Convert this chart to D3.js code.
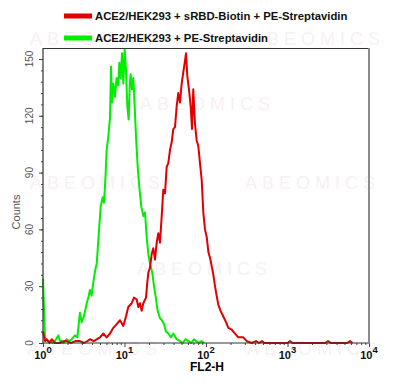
<!DOCTYPE html>
<html lang="en">
  <head>
    <meta charset="UTF-8" />
    <title>FL2-H histogram overlay</title>
    <script src="https://d3js.org/d3.v7.min.js"></script>
    <style>
      body {
        margin: 0;
        background: #fff;
        font-family: 'Liberation Sans', Arial, sans-serif;
      }
      .wm {
        font-size: 18px;
        letter-spacing: 5px;
        fill: #f7f1f3;
      }
      .legend-text {
        font-size: 11.3px;
        font-weight: bold;
        fill: #111;
      }
      .ytick-label {
        font-size: 10px;
        fill: #555;
      }
      .xtick-label {
        font-size: 11px;
        font-weight: bold;
        fill: #111;
      }
      .axis path {
        display: none;
      }
      .axis line {
        stroke: #444;
      }
    </style>
  </head>
  <body>
    <svg width="396" height="387"></svg>

    <script>
      // series (FL2-H channel value, counts)
      const seriesNames = [
        'ACE2/HEK293 + sRBD-Biotin + PE-Streptavidin',
        'ACE2/HEK293 + PE-Streptavidin',
      ];

      const greenFL = [
        1.0, 1.06, 1.14, 1.22, 1.3, 1.4, 1.54, 1.62, 1.69, 1.8, 1.95, 2.1,
        2.25, 2.47, 2.64, 2.84, 2.98, 3.18, 3.44, 3.6, 3.77, 3.95, 4.14, 4.35,
        4.56, 4.77, 5.1, 5.4, 5.6, 5.82, 6.04, 6.33, 6.64, 6.83, 7.02, 7.29,
        7.64, 8.01, 8.4, 8.64, 8.97, 9.32, 9.68, 10.05, 10.43, 10.83, 11.25,
        11.57, 11.9, 12.36, 12.84, 13.33, 13.84, 14.52, 15.21, 16.09, 17.03,
        17.85, 18.71, 19.6, 20.55, 21.95, 23.0, 24.4, 25.5, 27.3, 28.8, 30.5,
        32.3, 34.5, 37.2, 39.7, 43.7, 48.0, 52, 56, 61, 66, 71, 76, 82, 88, 95,
      ];
      const greenCounts = [
        34, 2, 1, 1, 0, 1, 4, 1, 1, 0, 2, 1,
        2, 4, 3, 16, 11, 14, 21, 24, 28, 25, 32, 38,
        42, 54, 72, 77, 74, 86, 102, 109, 119, 146, 127, 137,
        130, 140, 136, 148, 140, 153, 137, 155, 144, 125, 118,
        135, 142, 134, 140, 125, 109, 93, 82, 72, 67,
        69, 56, 47, 42, 37, 30, 23, 17, 13, 12, 10,
        6, 5, 3, 5, 2, 1, 0, 2, 1, 0, 2, 1, 0, 1, 0,
      ];

      const redFL = [
        1.0, 1.06, 1.11, 1.2, 1.28, 1.4, 1.62, 1.8, 1.95, 2.2, 2.5, 2.84, 3.2,
        3.5, 3.77, 4.2, 4.6, 5.0, 5.5, 6.04, 6.64, 7.29, 8.02, 8.81, 9.67,
        10.43, 11.13, 12.25, 13.08, 14.12, 14.77, 15.49, 16.25, 17.01, 18.36,
        19.05, 19.59, 20.55, 21.56, 22.56, 23.67, 24.84, 25.99, 27.27, 28.6,
        29.93, 31.4, 32.94, 34.47, 36.16, 37.93, 39.69, 41.64, 43.68, 45.71,
        47.96, 50.31, 52.64, 55.23, 56.84, 59.0, 61.8, 64.9, 67.3, 69.8, 73.2,
        76.8, 80.5, 84.4, 88.6, 92.7, 97.2, 102, 107, 112, 117, 123, 129, 135,
        142, 151, 163, 176, 188, 207, 227, 249, 287, 316, 364, 411, 450, 486,
        520, 1000, 1074, 1150, 2900, 3141, 3400, 5400, 5848, 6300,
      ];
      const redCounts = [
        6, 1, 2, 0, 2, 0, 0, 1, 1, 0, 1, 1, 0,
        1, 2, 1, 2, 3, 5, 3, 5, 8, 10, 12, 9,
        14, 19, 21, 24, 23, 19, 21, 17, 21, 24,
        32, 37, 40, 47, 50, 44, 53, 58, 53, 67,
        81, 79, 93, 95, 102, 106, 113, 114, 125, 132,
        127, 137, 143, 149, 153, 141, 134, 125, 113, 134, 116,
        107, 104, 95, 86, 69, 60, 56, 48, 45, 41, 36, 30, 25,
        20, 17, 14, 11, 8, 7, 5, 3, 3, 1, 0, 1, 0, 1,
        0, 0, 1, 0, 0, 1, 0, 0, 1, 0,
      ];

      const yTicks = [0, 30, 60, 90, 120, 150];
      const yMinorStep = 6;
      const xDecades = [1, 10, 100, 1000, 10000];
      const xExponents = ['0', '1', '2', '3', '4'];

      const svg = d3.select('svg');

      const plotL = 43,
        plotR = 369,
        plotT = 48.5,
        plotB = 343;

      const x = d3.scaleLog().domain([1, 10000]).range([plotL, plotR]);
      const y = d3.scaleLinear().domain([0, 150]).range([plotB, 59]);

      // watermark
      const wmSpots = [
        [30, 45], [250, 45], [140, 110], [30, 189], [245, 189],
        [137, 275], [27, 355], [247, 355],
      ];
      svg
        .selectAll('.wm')
        .data(wmSpots)
        .enter()
        .append('text')
        .attr('class', 'wm')
        .attr('x', (d) => d[0])
        .attr('y', (d) => d[1])
        .text('ABEOMICS');

      // axes ticks
      const minorY = d3.range(0, 151, yMinorStep);
      svg
        .append('g')
        .attr('class', 'axis')
        .attr('transform', `translate(${plotL},0)`)
        .call(d3.axisLeft(y).tickValues(minorY).tickSize(2).tickFormat(''));
      svg
        .append('g')
        .attr('class', 'axis')
        .attr('transform', `translate(${plotL},0)`)
        .call(d3.axisLeft(y).tickValues(yTicks).tickSize(4).tickFormat(''));

      svg
        .selectAll('.ytick-label')
        .data(yTicks)
        .enter()
        .append('text')
        .attr('class', 'ytick-label')
        .attr('transform', (d) => `translate(33,${y(d)}) rotate(-90)`)
        .attr('text-anchor', 'middle')
        .text((d) => d);

      const minorX = x.ticks().filter((d) => !xDecades.includes(d));
      svg
        .append('g')
        .attr('class', 'axis')
        .attr('transform', `translate(0,${plotB})`)
        .call(d3.axisBottom(x).tickValues(minorX).tickSize(2).tickFormat(''));
      svg
        .append('g')
        .attr('class', 'axis')
        .attr('transform', `translate(0,${plotB})`)
        .call(d3.axisBottom(x).tickValues(xDecades).tickSize(4).tickFormat(''));

      const xl = svg
        .selectAll('.xtick-label')
        .data(xDecades)
        .enter()
        .append('text')
        .attr('class', 'xtick-label')
        .attr('x', (d) => x(d))
        .attr('y', 359)
        .attr('text-anchor', 'middle');
      xl.append('tspan').text('10');
      xl.append('tspan')
        .attr('dy', -6)
        .style('font-size', '9.5px')
        .text((d, i) => xExponents[i]);

      svg
        .append('text')
        .attr('x', 207)
        .attr('y', 371)
        .attr('text-anchor', 'middle')
        .style('font-size', '12px')
        .style('font-weight', 'bold')
        .text('FL2-H');

      svg
        .append('text')
        .attr('transform', 'translate(20,212) rotate(-90)')
        .attr('text-anchor', 'middle')
        .style('font-size', '11px')
        .style('fill', '#555')
        .text('Counts');

      // histograms
      const line = d3
        .line()
        .x((d) => x(d[0]))
        .y((d) => y(d[1]));

      const green = d3.zip(greenFL, greenCounts);
      const red = d3.zip(redFL, redCounts);
      const colors = ['#e00000', '#00ee00'];

      svg
        .append('path')
        .datum(green)
        .attr('d', line)
        .attr('fill', 'none')
        .attr('stroke', colors[1])
        .attr('stroke-width', 2)
        .attr('stroke-linejoin', 'round');

      svg
        .append('path')
        .datum(red)
        .attr('d', line)
        .attr('fill', 'none')
        .attr('stroke', colors[0])
        .attr('stroke-width', 2)
        .attr('stroke-linejoin', 'round');

      // frame
      svg
        .append('path')
        .attr('d', `M${plotR},${plotT}H${plotL}V${plotB}H${plotR}`)
        .attr('fill', 'none')
        .attr('stroke', '#333')
        .attr('stroke-width', 1.2);
      svg
        .append('line')
        .attr('x1', plotR)
        .attr('x2', plotR)
        .attr('y1', plotT - 0.5)
        .attr('y2', plotB + 0.5)
        .attr('stroke', '#8c8c8c')
        .attr('stroke-width', 2);

      // legend
      const lg = svg
        .selectAll('.legend')
        .data(seriesNames)
        .enter()
        .append('g')
        .attr('class', 'legend')
        .attr('transform', (d, i) => `translate(0,${16 + i * 22})`);
      lg.append('rect')
        .attr('x', 64)
        .attr('y', -2.5)
        .attr('width', 28)
        .attr('height', 5)
        .attr('fill', (d, i) => colors[i]);
      lg.append('text')
        .attr('class', 'legend-text')
        .attr('x', 95)
        .attr('y', 4.2)
        .text((d) => d);
    </script>
  </body>
</html>
